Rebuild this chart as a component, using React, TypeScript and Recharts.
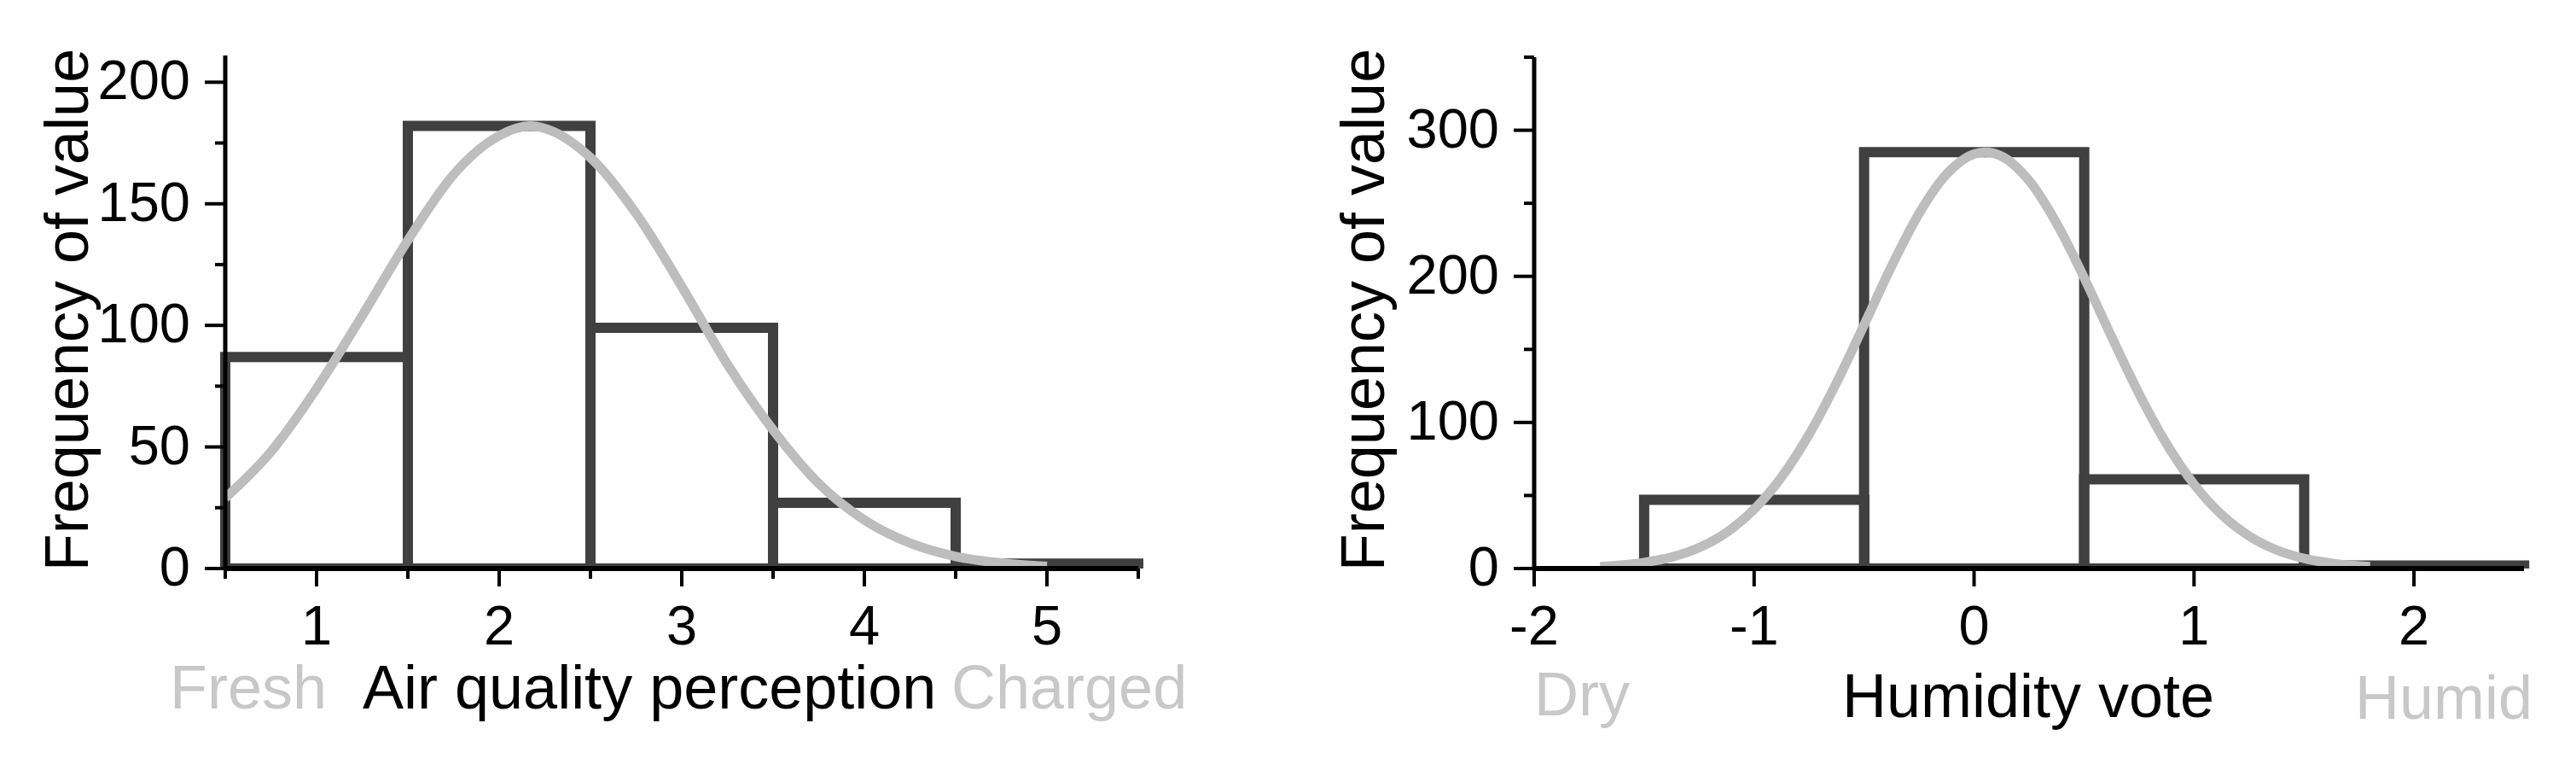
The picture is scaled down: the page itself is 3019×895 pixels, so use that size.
import React from 'react';
import { ComposedChart, Bar, Line, XAxis, YAxis, Label } from 'recharts';

const FONT = '"Liberation Sans", Arial, sans-serif';

// Air quality perception (left panel)
const airBins = ['1', '2', '3', '4', '5'];
const airCounts = [87, 182, 99, 27, 2];
const airCurveX = [0.5, 0.75, 1, 1.25, 1.5, 1.75, 2, 2.17, 2.25, 2.5, 2.75, 3, 3.25, 3.5, 3.75, 4, 4.25, 4.5, 4.75, 5];
const airCurveY = [29, 48, 74, 104, 135, 162, 178, 182, 181, 169, 146, 116, 84, 57, 35, 20, 10.5, 5, 2.3, 0.9];
const airXTicks = [0.5, 1, 1.5, 2, 2.5, 3, 3.5, 4, 4.5, 5, 5.5];
const airXLabels = [1, 2, 3, 4, 5];
const airYTicks = [0, 25, 50, 75, 100, 125, 150, 175, 200];
const airYLabels = [0, 50, 100, 150, 200];

// Humidity vote (right panel)
const humBins = ['-1', '0', '1', '2'];
const humCounts = [47, 285, 61, 2];
const humCurveX = [-1.7, -1.5, -1.375, -1.25, -1.125, -1, -0.875, -0.75, -0.625, -0.5, -0.375, -0.25, -0.125, 0, 0.05, 0.125, 0.25, 0.375, 0.5, 0.625, 0.75, 0.875, 1, 1.125, 1.25, 1.375, 1.5, 1.65, 1.8];
const humCurveY = [1.3, 4.1, 7.8, 14.3, 24.7, 40.5, 62.7, 91.8, 127.3, 166.8, 207, 243, 269.9, 283.7, 285, 282.2, 265.5, 236.4, 199.2, 158.7, 119.7, 85.4, 57.7, 36.9, 22.3, 12.7, 6.9, 3.1, 1.3];
const humXTicks = [-2, -1, 0, 1, 2];
const humXLabels = [-2, -1, 0, 1, 2];
const humYTicks = [0, 50, 100, 150, 200, 250, 300, 350];
const humYLabels = [0, 100, 200, 300];

const XTick = ({ x, y, payload, labels }) => {
  const major = labels.includes(payload.value);
  return (
    <g>
      <line x1={x} x2={x} y1={y} y2={y + (major ? 21 : 12)} stroke="#000" strokeWidth={4} />
      {major && (
        <text x={x} y={y + 89} textAnchor="middle" fontSize={65} fontFamily={FONT} fill="#000">
          {String(payload.value)}
        </text>
      )}
    </g>
  );
};

const YTick = ({ x, y, payload, labels }) => {
  const major = labels.includes(payload.value);
  return (
    <g>
      <line x1={x} x2={x - (major ? 24 : 12)} y1={y} y2={y} stroke="#000" strokeWidth={4} />
      {major && (
        <text x={x - 41} y={y + 20} textAnchor="end" fontSize={65} fontFamily={FONT} fill="#000">
          {String(payload.value)}
        </text>
      )}
    </g>
  );
};

const Histogram = ({ left, width, plot, xDomain, yDomain, binStart, bins, counts, curveX, curveY,
  xTicks, xLabels, yTicks, yLabels, yTitle, xTitle, lowWord, highWord }) => {
  const bars = bins.map((bin, i) => ({ bin, count: counts[i] }));
  const curve = curveX.map((x, i) => ({ x, y: curveY[i] }));
  const plotWidth = plot.right - plot.left;
  const padLeft = ((binStart - xDomain[0]) / (xDomain[1] - xDomain[0])) * plotWidth;

  // visible axes are 1px wide/high so they still render; margins compensate
  return (
    <div style={{ position: 'absolute', left, top: 0 }}>
      <ComposedChart
        width={width}
        height={895}
        data={bars}
        barCategoryGap={0}
        barGap={0}
        margin={{ top: plot.top, bottom: 895 - plot.bottom - 1, left: plot.left - 1, right: width - plot.right }}
      >
        <XAxis
          xAxisId="num"
          dataKey="x"
          type="number"
          domain={xDomain}
          ticks={xTicks}
          allowDataOverflow
          interval={0}
          height={1}
          tickSize={0}
          tickMargin={0}
          tickLine={false}
          axisLine={{ stroke: '#000', strokeWidth: 6 }}
          tick={(p) => <XTick {...p} labels={xLabels} />}
        >
          <Label
            content={() => (
              <g fontFamily={FONT} fontSize={72}>
                <text x={lowWord.x} y={lowWord.y} fill="#c8c8c8">{lowWord.text}</text>
                <text x={xTitle.x} y={xTitle.y} fill="#000">{xTitle.text}</text>
                <text x={highWord.x} y={highWord.y} fill="#c8c8c8">{highWord.text}</text>
              </g>
            )}
          />
        </XAxis>
        <XAxis xAxisId="bin" dataKey="bin" type="category" hide height={0} padding={{ left: padLeft, right: 0 }} />
        <YAxis
          yAxisId="y"
          type="number"
          domain={yDomain}
          ticks={yTicks}
          allowDataOverflow
          interval={0}
          width={1}
          tickSize={0}
          tickMargin={0}
          tickLine={false}
          axisLine={{ stroke: '#000', strokeWidth: 5 }}
          tick={(p) => <YTick {...p} labels={yLabels} />}
        >
          <Label
            content={() => (
              <text
                x={yTitle.x}
                y={yTitle.y}
                transform={`rotate(-90 ${yTitle.x} ${yTitle.y})`}
                textAnchor="middle"
                fontFamily={FONT}
                fontSize={72}
                fill="#000"
              >
                {yTitle.text}
              </text>
            )}
          />
        </YAxis>
        <Bar
          xAxisId="bin"
          yAxisId="y"
          dataKey="count"
          fill="none"
          stroke="#404040"
          strokeWidth={12}
          isAnimationActive={false}
        />
        <Line
          xAxisId="num"
          yAxisId="y"
          data={curve}
          dataKey="y"
          type="monotone"
          stroke="#bdbdbd"
          strokeWidth={11}
          dot={false}
          isAnimationActive={false}
        />
      </ComposedChart>
    </div>
  );
};

const App = () => (
  <div style={{ position: 'absolute', left: 0, top: 0, width: 3019, height: 895, background: '#fff', overflow: 'hidden' }}>
    <Histogram
      left={0}
      width={1440}
      plot={{ left: 264, right: 1334, top: 65, bottom: 666 }}
      xDomain={[0.5, 5.5]}
      yDomain={[0, 211]}
      binStart={0.5}
      bins={airBins}
      counts={airCounts}
      curveX={airCurveX}
      curveY={airCurveY}
      xTicks={airXTicks}
      xLabels={airXLabels}
      yTicks={airYTicks}
      yLabels={airYLabels}
      yTitle={{ text: 'Frequency of value', x: 103, y: 363 }}
      xTitle={{ text: 'Air quality perception', x: 425, y: 830 }}
      lowWord={{ text: 'Fresh', x: 199, y: 830 }}
      highWord={{ text: 'Charged', x: 1115, y: 830 }}
    />
    <Histogram
      left={1500}
      width={1519}
      plot={{ left: 298, right: 1458, top: 67, bottom: 666 }}
      xDomain={[-2, 2.5]}
      yDomain={[0, 350]}
      binStart={-1.5}
      bins={humBins}
      counts={humCounts}
      curveX={humCurveX}
      curveY={humCurveY}
      xTicks={humXTicks}
      xLabels={humXLabels}
      yTicks={humYTicks}
      yLabels={humYLabels}
      yTitle={{ text: 'Frequency of value', x: 122, y: 363 }}
      xTitle={{ text: 'Humidity vote', x: 659, y: 840 }}
      lowWord={{ text: 'Dry', x: 298, y: 838 }}
      highWord={{ text: 'Humid', x: 1260, y: 842 }}
    />
  </div>
);

export default App;
